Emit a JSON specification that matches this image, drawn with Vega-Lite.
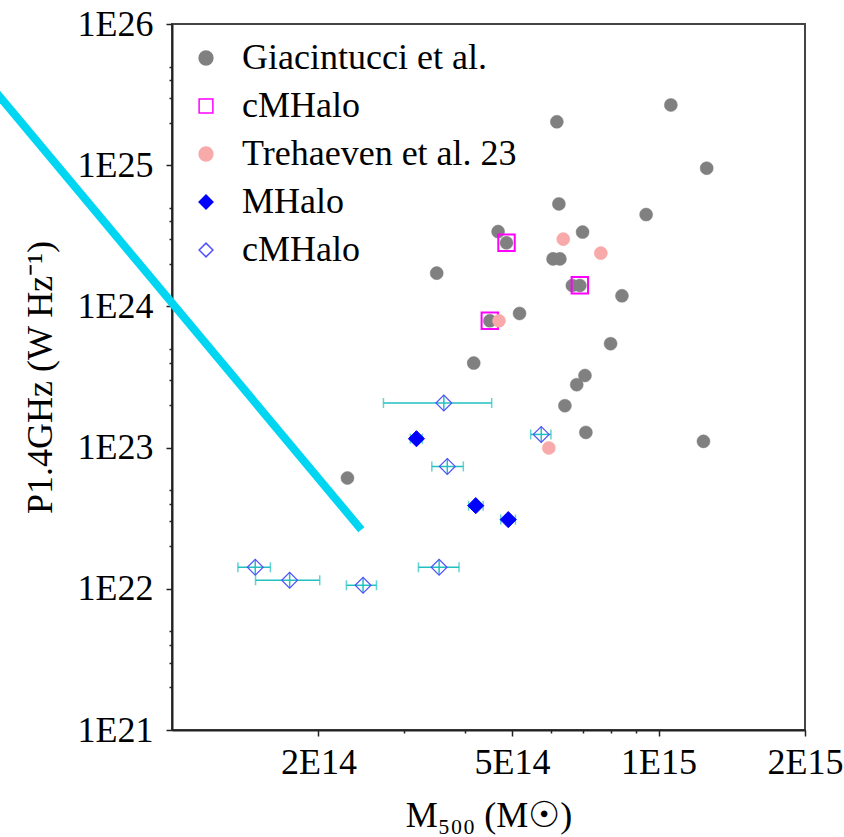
{
  "$schema": "https://vega.github.io/schema/vega-lite/v6.json",
  "autosize": {"type": "none"},
  "padding": {"left": 172, "top": 24, "right": 39, "bottom": 107},
  "width": 633,
  "height": 706,
  "background": "white",
  "config": {
    "font": "Liberation Serif",
    "view": {"stroke": "#444444", "strokeWidth": 2},
    "axis": {
      "labelFont": "Liberation Serif",
      "titleFont": "Liberation Serif",
      "labelFontSize": 36,
      "titleFontSize": 36,
      "titleFontWeight": "normal",
      "labelColor": "black",
      "titleColor": "black",
      "domainColor": "#222222",
      "domainWidth": 2,
      "tickColor": "#222222",
      "tickWidth": 1.5,
      "grid": false
    },
    "legend": {
      "orient": "top-left",
      "offset": 16,
      "labelFont": "Liberation Serif",
      "labelFontSize": 36,
      "labelColor": "black",
      "rowPadding": 12,
      "labelOffset": 18,
      "labelLimit": 0,
      "symbolSize": 190,
      "symbolStrokeWidth": 1.5
    }
  },
  "datasets": {
    "pts": [
      {"s": "g", "x": 1.06e15, "y": 2.67e25},
      {"s": "g", "x": 6.18e14, "y": 2.03e25},
      {"s": "g", "x": 1.256e15, "y": 9.52e24},
      {"s": "g", "x": 6.24e14, "y": 5.32e24},
      {"s": "g", "x": 9.43e14, "y": 4.47e24},
      {"s": "g", "x": 4.68e14, "y": 3.39e24},
      {"s": "g", "x": 4.87e14, "y": 2.82e24},
      {"s": "g", "x": 6.98e14, "y": 3.36e24},
      {"s": "g", "x": 6.07e14, "y": 2.17e24},
      {"s": "g", "x": 6.27e14, "y": 2.17e24},
      {"s": "g", "x": 6.65e14, "y": 1.406e24},
      {"s": "g", "x": 6.89e14, "y": 1.406e24},
      {"s": "g", "x": 8.41e14, "y": 1.189e24},
      {"s": "g", "x": 5.18e14, "y": 8.91e23},
      {"s": "g", "x": 4.5e14, "y": 7.91e23},
      {"s": "g", "x": 3.5e14, "y": 1.72e24},
      {"s": "g", "x": 4.17e14, "y": 3.97e23},
      {"s": "g", "x": 7.97e14, "y": 5.44e23},
      {"s": "g", "x": 7.06e14, "y": 3.24e23},
      {"s": "g", "x": 6.79e14, "y": 2.79e23},
      {"s": "g", "x": 6.42e14, "y": 1.98e23},
      {"s": "g", "x": 7.09e14, "y": 1.281e23},
      {"s": "g", "x": 1.237e15, "y": 1.107e23},
      {"s": "g", "x": 2.294e14, "y": 6.09e22},
      {"s": "s", "x": 4.87e14, "y": 2.82e24},
      {"s": "s", "x": 6.89e14, "y": 1.41e24},
      {"s": "s", "x": 4.5e14, "y": 7.91e23},
      {"s": "t", "x": 6.37e14, "y": 2.995e24},
      {"s": "t", "x": 7.61e14, "y": 2.384e24},
      {"s": "t", "x": 4.7e14, "y": 7.91e23},
      {"s": "t", "x": 5.95e14, "y": 9.94e22},
      {"s": "m", "x": 3.18e14, "y": 1.156e23},
      {"s": "m", "x": 4.21e14, "y": 3.88e22},
      {"s": "m", "x": 4.91e14, "y": 3.09e22},
      {"s": "c", "x": 3.62e14, "y": 2.07e23},
      {"s": "c", "x": 5.74e14, "y": 1.24e23},
      {"s": "c", "x": 3.68e14, "y": 7.36e22},
      {"s": "c", "x": 1.483e14, "y": 1.42e22},
      {"s": "c", "x": 1.745e14, "y": 1.149e22},
      {"s": "c", "x": 2.47e14, "y": 1.059e22},
      {"s": "c", "x": 3.54e14, "y": 1.42e22}
    ],
    "err": [
      {"x": 3.18e14, "y": 1.156e23, "xlo": 3.09e14, "xhi": 3.27e14, "ylo": 1.03e23, "yhi": 1.3e23},
      {"x": 4.21e14, "y": 3.88e22, "xlo": 4.07e14, "xhi": 4.36e14, "ylo": 3.46e22, "yhi": 4.35e22},
      {"x": 4.91e14, "y": 3.09e22, "xlo": 4.74e14, "xhi": 5.08e14, "ylo": 2.76e22, "yhi": 3.46e22},
      {"x": 3.62e14, "y": 2.07e23, "xlo": 2.72e14, "xhi": 4.54e14, "ylo": 1.82e23, "yhi": 2.36e23},
      {"x": 5.74e14, "y": 1.24e23, "xlo": 5.46e14, "xhi": 6.01e14, "ylo": 1.09e23, "yhi": 1.41e23},
      {"x": 3.68e14, "y": 7.36e22, "xlo": 3.42e14, "xhi": 3.97e14, "ylo": 6.46e22, "yhi": 8.38e22},
      {"x": 1.483e14, "y": 1.42e22, "xlo": 1.366e14, "xhi": 1.593e14, "ylo": 1.25e22, "yhi": 1.62e22},
      {"x": 1.745e14, "y": 1.149e22, "xlo": 1.485e14, "xhi": 2.012e14, "ylo": 1.01e22, "yhi": 1.31e22},
      {"x": 2.47e14, "y": 1.059e22, "xlo": 2.283e14, "xhi": 2.632e14, "ylo": 0.93e22, "yhi": 1.206e22},
      {"x": 3.54e14, "y": 1.42e22, "xlo": 3.21e14, "xhi": 3.89e14, "ylo": 1.25e22, "yhi": 1.62e22}
    ],
    "fit": [
      {"x": 4.21e13, "y": 3.76e25},
      {"x": 2.45e14, "y": 2.62e22}
    ]
  },
  "layer": [
    {
      "data": {"name": "fit"},
      "mark": {"type": "line", "color": "#00d6f2", "strokeWidth": 8, "strokeCap": "butt", "clip": false},
      "encoding": {
        "x": {
          "field": "x", "type": "quantitative",
          "scale": {"type": "log", "domain": [1e14, 2e15], "nice": false},
          "axis": {
            "title": "M₅₀₀ (M☉)",
            "values": [2e14, 3e14, 4e14, 5e14, 6e14, 7e14, 8e14, 9e14, 1e15, 2e15],
            "labelExpr": "datum.value == 2e14 ? '2E14' : datum.value == 5e14 ? '5E14' : datum.value == 1e15 ? '1E15' : datum.value == 2e15 ? '2E15' : ''",
            "tickSize": {"condition": {"test": "indexof([2e14, 5e14, 1e15, 2e15], datum.value) >= 0", "value": 6}, "value": 3},
            "labelPadding": 9,
            "titlePadding": 18,
            "labelFlush": false,
            "labelOverlap": false
          }
        },
        "y": {
          "field": "y", "type": "quantitative",
          "scale": {"type": "log", "domain": [1e21, 1e26], "nice": false},
          "axis": {
            "title": "P1.4GHz (W Hz⁻¹)",
            "values": [1e21, 2e21, 3e21, 4e21, 5e21, 1e22, 2e22, 3e22, 4e22, 5e22, 1e23, 2e23, 3e23, 4e23, 5e23, 1e24, 2e24, 3e24, 4e24, 5e24, 1e25, 2e25, 3e25, 4e25, 5e25, 1e26],
            "labelExpr": "datum.value == 1e21 ? '1E21' : datum.value == 1e22 ? '1E22' : datum.value == 1e23 ? '1E23' : datum.value == 1e24 ? '1E24' : datum.value == 1e25 ? '1E25' : datum.value == 1e26 ? '1E26' : ''",
            "tickSize": {"condition": {"test": "indexof([1e21, 1e22, 1e23, 1e24, 1e25, 1e26], datum.value) >= 0", "value": 6}, "value": 3},
            "labelPadding": 13,
            "titlePadding": 18,
            "labelFlush": false,
            "labelOverlap": false
          }
        }
      }
    },
    {
      "data": {"name": "err"},
      "mark": {"type": "rule", "color": "#22c0c0", "strokeWidth": 1.5},
      "encoding": {
        "x": {"field": "xlo", "type": "quantitative"},
        "x2": {"field": "xhi"},
        "y": {"field": "y", "type": "quantitative"}
      }
    },
    {
      "data": {"name": "err"},
      "mark": {"type": "rule", "color": "#22c0c0", "strokeWidth": 1.5},
      "encoding": {
        "x": {"field": "x", "type": "quantitative"},
        "y": {"field": "ylo", "type": "quantitative"},
        "y2": {"field": "yhi"}
      }
    },
    {
      "data": {"name": "err"},
      "mark": {"type": "tick", "orient": "vertical", "color": "#22c0c0", "size": 10, "thickness": 1.5},
      "encoding": {
        "x": {"field": "xlo", "type": "quantitative"},
        "y": {"field": "y", "type": "quantitative"}
      }
    },
    {
      "data": {"name": "err"},
      "mark": {"type": "tick", "orient": "vertical", "color": "#22c0c0", "size": 10, "thickness": 1.5},
      "encoding": {
        "x": {"field": "xhi", "type": "quantitative"},
        "y": {"field": "y", "type": "quantitative"}
      }
    },
    {
      "data": {"name": "pts"},
      "encoding": {
        "x": {"field": "x", "type": "quantitative"},
        "y": {"field": "y", "type": "quantitative"},
        "shape": {
          "field": "s", "type": "nominal",
          "scale": {"domain": ["g", "s", "t", "m", "c"], "range": ["circle", "square", "circle", "diamond", "diamond"]},
          "legend": {
            "title": null,
            "labelFont": "Liberation Serif",
            "labelExpr": "datum.value == 'g' ? 'Giacintucci et al.' : datum.value == 's' ? 'cMHalo' : datum.value == 't' ? 'Trehaeven et al. 23' : datum.value == 'm' ? 'MHalo' : 'cMHalo'"
          }
        },
        "fill": {
          "field": "s", "type": "nominal",
          "scale": {"domain": ["g", "s", "t", "m", "c"], "range": ["#808080", "transparent", "#f8a9a9", "#0000ff", "transparent"]},
          "legend": {
            "title": null,
            "labelFont": "Liberation Serif",
            "labelExpr": "datum.value == 'g' ? 'Giacintucci et al.' : datum.value == 's' ? 'cMHalo' : datum.value == 't' ? 'Trehaeven et al. 23' : datum.value == 'm' ? 'MHalo' : 'cMHalo'"
          }
        },
        "stroke": {
          "field": "s", "type": "nominal",
          "scale": {"domain": ["g", "s", "t", "m", "c"], "range": ["#808080", "#ff00ff", "#f8a9a9", "#0000ff", "#5050ff"]},
          "legend": {
            "title": null,
            "labelFont": "Liberation Serif",
            "labelExpr": "datum.value == 'g' ? 'Giacintucci et al.' : datum.value == 's' ? 'cMHalo' : datum.value == 't' ? 'Trehaeven et al. 23' : datum.value == 'm' ? 'MHalo' : 'cMHalo'"
          }
        }
      },
      "layer": [
        {
          "transform": [{"filter": "datum.s == 'g'"}],
          "mark": {"type": "point", "filled": true, "opacity": 1, "size": 170, "strokeWidth": 0.5}
        },
        {
          "transform": [{"filter": "datum.s == 's'"}],
          "mark": {"type": "point", "filled": true, "opacity": 1, "size": 270, "strokeWidth": 2}
        },
        {
          "transform": [{"filter": "datum.s == 't'"}],
          "mark": {"type": "point", "filled": true, "opacity": 1, "size": 170, "strokeWidth": 0.5}
        },
        {
          "transform": [{"filter": "datum.s == 'm'"}],
          "mark": {"type": "point", "filled": true, "opacity": 1, "size": 260, "strokeWidth": 1}
        },
        {
          "transform": [{"filter": "datum.s == 'c'"}],
          "mark": {"type": "point", "filled": true, "opacity": 1, "size": 250, "strokeWidth": 1.2}
        }
      ]
    }
  ]
}
